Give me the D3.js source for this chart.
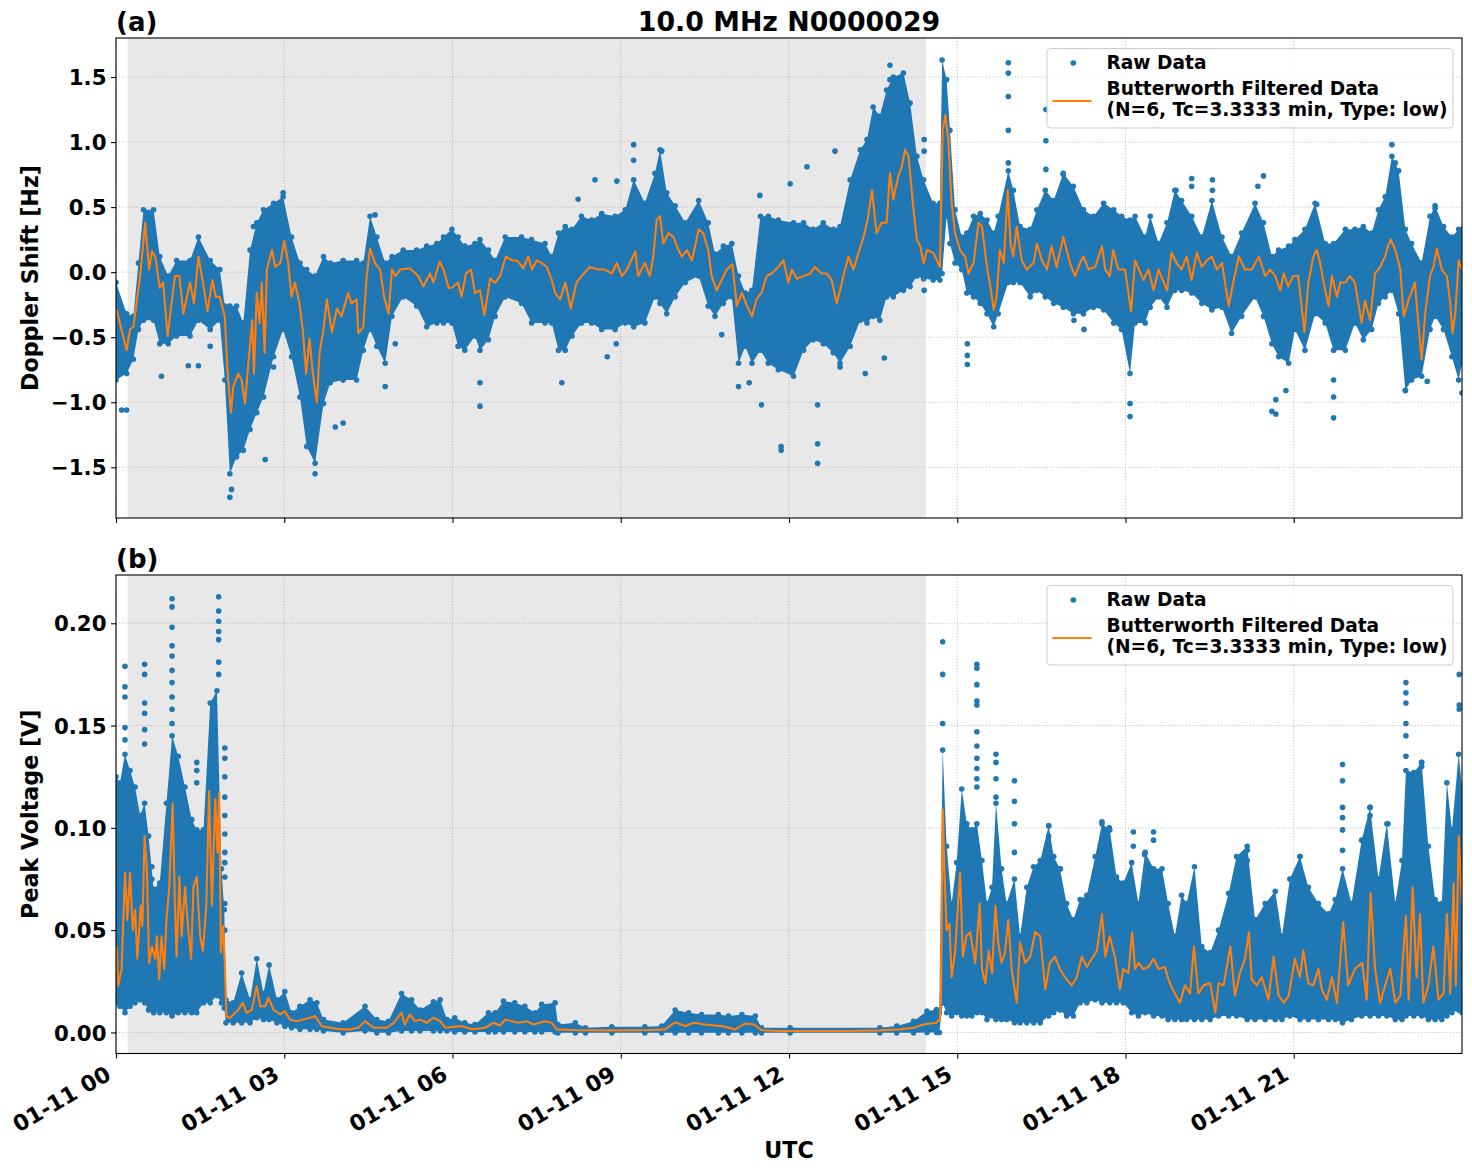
<!DOCTYPE html>
<html><head><meta charset="utf-8">
<script src="https://cdn.jsdelivr.net/npm/d3@7"></script>
<style>
body{margin:0;background:#fff}
text{font-family:"DejaVu Sans",sans-serif;font-weight:bold;fill:#000}
</style>
</head><body>
<svg id="chart" width="1472" height="1172"></svg>
<script>
// ---------------- DATA ----------------
const chartTitle = "10.0 MHz N0000029";
const xTickHours = [0, 3, 6, 9, 12, 15, 18, 21];
const xTickLabels = ["01-11 00","01-11 03","01-11 06","01-11 09","01-11 12","01-11 15","01-11 18","01-11 21"];
const dopplerTicks = [-1.5, -1.0, -0.5, 0.0, 0.5, 1.0, 1.5];
const voltageTicks = [0.00, 0.05, 0.10, 0.15, 0.20];
const shadeSpanHours = [0.208, 14.44];
const legendLabels = ["Raw Data", "Butterworth Filtered Data", "(N=6, Tc=3.3333 min, Type: low)"];

// Doppler raw-data cloud: [hour, lower edge, upper edge]
const dopplerRawBand = [
[0.00,-0.83,-0.08],[0.19,-0.78,-0.32],[0.31,-0.67,-0.34],[0.40,-0.44,0.07],[0.49,-0.37,0.48],[0.67,-0.37,0.48],
[0.78,-0.55,0.12],[0.93,-0.55,-0.03],[1.08,-0.49,0.09],[1.32,-0.49,0.09],[1.47,-0.37,0.27],[1.68,-0.44,0.09],
[1.85,-0.37,0.02],[1.94,-0.83,-0.26],[2.03,-1.55,-0.26],[2.15,-1.42,-0.26],[2.27,-1.37,-0.39],[2.39,-1.21,0.17],
[2.51,-1.08,0.38],[2.63,-0.96,0.48],[2.81,-0.65,0.53],[2.98,-0.44,0.58],[3.13,-0.65,0.27],[3.28,-0.96,0.07],
[3.40,-1.34,0.02],[3.55,-1.47,-0.03],[3.70,-1.01,0.12],[3.82,-0.85,0.07],[4.05,-0.83,0.09],[4.29,-0.83,0.09],
[4.41,-0.60,0.07],[4.53,-0.44,0.43],[4.65,-0.57,0.27],[4.80,-0.70,0.07],[4.92,-0.34,0.12],[5.12,-0.19,0.17],
[5.36,-0.26,0.17],[5.54,-0.42,0.20],[5.72,-0.39,0.22],[5.84,-0.39,0.27],[5.99,-0.39,0.33],[6.10,-0.57,0.27],
[6.22,-0.60,0.20],[6.40,-0.49,0.22],[6.49,-0.60,0.25],[6.64,-0.52,0.17],[6.76,-0.34,0.09],[6.94,-0.19,0.27],
[7.23,-0.24,0.27],[7.41,-0.39,0.25],[7.65,-0.39,0.22],[7.77,-0.39,0.12],[7.89,-0.60,0.30],[8.01,-0.60,0.35],
[8.13,-0.49,0.33],[8.30,-0.39,0.43],[8.48,-0.39,0.40],[8.66,-0.44,0.45],[8.90,-0.44,0.43],[9.08,-0.39,0.48],
[9.23,-0.42,0.71],[9.43,-0.39,0.53],[9.61,-0.19,0.76],[9.70,-0.24,0.94],[9.82,-0.32,0.61],[9.97,-0.19,0.51],
[10.15,-0.08,0.38],[10.39,-0.03,0.55],[10.56,-0.26,0.38],[10.68,-0.34,0.14],[10.83,-0.24,0.20],[10.98,-0.19,0.22],
[11.10,-0.70,-0.03],[11.22,-0.57,-0.16],[11.34,-0.70,-0.14],[11.49,-0.60,0.43],[11.63,-0.70,0.43],[11.81,-0.75,0.40],
[12.08,-0.80,0.38],[12.26,-0.60,0.38],[12.43,-0.52,0.33],[12.61,-0.55,0.38],[12.79,-0.62,0.33],[12.91,-0.70,0.35],
[13.09,-0.57,0.71],[13.27,-0.37,0.94],[13.39,-0.39,1.02],[13.50,-0.34,1.27],[13.62,-0.37,1.20],[13.74,-0.19,1.40],
[13.86,-0.19,1.50],[14.04,-0.14,1.53],[14.16,-0.11,1.30],[14.28,-0.03,0.89],[14.40,-0.05,0.71],[14.57,-0.06,0.53],
[14.69,-0.06,0.53],[14.73,-0.01,1.63],[14.81,0.43,1.48],[14.87,0.22,1.09],[14.96,0.07,0.48],[15.08,0.02,0.27],
[15.17,-0.16,0.30],[15.29,-0.19,0.43],[15.41,-0.24,0.45],[15.53,-0.32,0.40],[15.65,-0.42,0.30],[15.73,-0.32,0.43],
[15.91,-0.08,0.78],[16.00,-0.08,0.63],[16.12,-0.08,0.35],[16.30,-0.19,0.33],[16.42,-0.14,0.48],[16.57,-0.19,0.63],
[16.72,-0.24,0.55],[16.89,-0.27,0.76],[17.07,-0.32,0.66],[17.25,-0.32,0.48],[17.43,-0.27,0.43],[17.61,-0.29,0.53],
[17.79,-0.39,0.48],[17.93,-0.44,0.43],[18.08,-0.78,0.40],[18.17,-0.39,0.43],[18.35,-0.39,0.27],[18.44,-0.27,0.43],
[18.59,-0.19,0.22],[18.74,-0.27,0.38],[18.88,-0.14,0.63],[19.00,-0.14,0.55],[19.18,-0.16,0.43],[19.36,-0.24,0.27],
[19.54,-0.29,0.55],[19.72,-0.27,0.27],[19.89,-0.47,0.12],[20.07,-0.34,0.30],[20.31,-0.19,0.53],[20.46,-0.34,0.38],
[20.61,-0.55,0.12],[20.73,-0.65,0.17],[20.91,-0.70,0.20],[21.02,-0.44,0.25],[21.20,-0.60,0.33],[21.38,-0.32,0.53],
[21.56,-0.39,0.22],[21.71,-0.60,0.22],[21.92,-0.60,0.33],[22.09,-0.39,0.33],[22.24,-0.52,0.35],[22.39,-0.44,0.30],
[22.51,-0.24,0.48],[22.63,-0.19,0.58],[22.75,-0.14,0.89],[22.87,-0.32,0.78],[22.99,-0.91,0.33],[23.10,-0.83,0.22],
[23.28,-0.80,0.07],[23.43,-0.44,0.43],[23.52,-0.34,0.51],[23.67,-0.44,0.35],[23.82,-0.65,0.27],[23.94,-0.83,0.33],
[24.00,-0.70,0.33]
];

// Doppler isolated raw points: [hour, Hz]
const dopplerRawOutliers = [
[0.10,-1.06],[0.19,-1.06],[0.81,-0.80],[1.29,-0.72],[1.47,-0.72],[1.68,-0.57],[2.03,-1.73],[2.06,-1.67],[2.66,-1.44],
[3.55,-1.55],[3.91,-1.19],[4.05,-1.16],[4.80,-0.88],[4.98,-0.55],[2.98,0.61],[4.62,0.44],[2.81,-0.73],[2.45,0.35],
[6.49,-1.03],[6.49,-0.85],[7.95,-0.85],[8.76,-0.65],[8.92,-0.55],[8.54,0.71],[8.93,0.70],[9.23,0.98],[9.23,0.86],
[9.73,0.93],[10.80,-0.48],[11.10,-0.88],[11.29,-0.85],[11.51,-1.02],[11.86,-1.34],[11.86,-1.37],[11.48,0.59],[8.24,0.56],
[12.51,-1.02],[12.51,-1.32],[12.51,-1.47],[12.82,0.93],[12.32,0.81],[12.02,0.68],[13.36,-0.78],[12.91,-0.73],[13.70,-0.66],
[13.80,1.59],[13.80,1.48],[15.18,-0.71],[15.18,-0.64],[15.18,-0.55],[15.91,1.61],[15.91,1.53],[15.91,1.35],[15.91,1.09],
[15.91,0.84],[16.58,1.25],[16.58,1.01],[16.58,0.79],[16.89,0.75],[14.41,-0.14],[14.41,1.02],[14.41,0.93],[17.08,-0.37],
[17.26,-0.44],[18.08,-1.11],[18.08,-1.01],[19.18,0.72],[19.18,0.66],[19.55,0.71],[19.55,0.63],[20.46,0.74],[20.36,0.66],
[20.61,-1.07],[20.68,-1.09],[20.68,-0.98],[20.86,-0.91],[21.71,-1.12],[21.71,-0.96],[21.71,-0.83],[22.75,0.98],[22.81,0.84],
[22.99,-0.91],[23.38,-0.84],[24.00,-0.93],[18.90,0.63],[23.52,0.49],[21.41,0.52]
];

// Doppler Butterworth filtered series: [hour, Hz]
const dopplerFiltered = [
[0.01,-0.29],[0.19,-0.60],[0.25,-0.44],[0.31,-0.42],[0.43,-0.03],[0.52,0.38],[0.59,0.02],[0.64,0.16],[0.70,0.12],
[0.78,-0.12],[0.84,-0.08],[0.92,-0.49],[0.99,-0.24],[1.05,-0.03],[1.13,-0.03],[1.20,-0.32],[1.32,-0.08],[1.39,-0.24],
[1.47,0.12],[1.55,-0.08],[1.63,-0.30],[1.72,-0.06],[1.78,-0.19],[1.85,-0.19],[1.94,-0.34],[1.99,-0.78],[2.05,-1.08],
[2.09,-0.88],[2.18,-0.78],[2.24,-0.83],[2.30,-1.01],[2.36,-0.70],[2.43,-0.37],[2.46,-0.78],[2.51,-0.16],[2.56,-0.39],
[2.60,-0.08],[2.65,-0.62],[2.69,0.02],[2.78,0.17],[2.84,0.04],[2.93,0.07],[3.00,0.24],[3.07,0.07],[3.13,-0.19],
[3.19,-0.08],[3.27,-0.24],[3.33,-0.44],[3.39,-0.78],[3.45,-0.51],[3.51,-0.78],[3.58,-1.00],[3.63,-0.62],[3.70,-0.44],
[3.76,-0.21],[3.85,-0.46],[3.94,-0.28],[4.02,-0.34],[4.14,-0.16],[4.20,-0.24],[4.29,-0.21],[4.32,-0.47],[4.41,-0.42],
[4.47,-0.03],[4.53,0.18],[4.62,0.07],[4.71,0.02],[4.78,-0.19],[4.86,-0.32],[4.92,0.02],[4.98,-0.03],[5.07,0.02],
[5.24,0.03],[5.39,-0.03],[5.48,-0.11],[5.60,-0.01],[5.66,-0.08],[5.77,0.08],[5.84,0.02],[5.93,-0.12],[5.99,-0.12],
[6.10,-0.08],[6.16,-0.19],[6.24,-0.01],[6.33,0.02],[6.40,-0.16],[6.49,-0.14],[6.57,-0.33],[6.67,-0.05],[6.76,-0.08],
[6.85,-0.03],[6.95,0.12],[7.06,0.09],[7.15,0.09],[7.26,0.03],[7.35,0.12],[7.42,0.02],[7.50,0.09],[7.59,0.07],
[7.68,0.04],[7.77,-0.06],[7.83,-0.16],[7.92,-0.21],[8.01,-0.08],[8.11,-0.28],[8.21,-0.08],[8.30,-0.03],[8.45,0.04],
[8.60,0.02],[8.72,0.02],[8.84,-0.01],[8.93,0.07],[9.02,-0.03],[9.11,0.02],[9.26,0.16],[9.31,-0.03],[9.43,0.07],
[9.52,-0.03],[9.58,0.12],[9.64,0.40],[9.70,0.43],[9.76,0.22],[9.85,0.30],[9.94,0.27],[10.03,0.17],[10.09,0.12],
[10.18,0.17],[10.27,0.09],[10.39,0.33],[10.47,0.30],[10.56,0.17],[10.62,-0.03],[10.71,-0.14],[10.80,-0.06],[10.89,0.02],
[10.99,0.06],[11.07,-0.26],[11.16,-0.16],[11.25,-0.26],[11.34,-0.34],[11.42,-0.21],[11.51,-0.16],[11.60,-0.03],
[11.69,-0.01],[11.81,0.04],[11.90,0.09],[11.99,-0.08],[12.05,0.02],[12.14,-0.05],[12.26,-0.03],[12.38,-0.01],
[12.46,0.04],[12.58,-0.01],[12.67,-0.01],[12.76,-0.06],[12.85,-0.24],[12.91,-0.14],[12.97,-0.03],[13.06,0.12],
[13.15,0.02],[13.24,0.15],[13.33,0.27],[13.40,0.40],[13.48,0.63],[13.56,0.30],[13.65,0.38],[13.74,0.38],[13.80,0.76],
[13.86,0.56],[13.95,0.74],[14.01,0.81],[14.07,0.94],[14.13,0.89],[14.22,0.48],[14.28,0.25],[14.34,0.20],[14.40,0.07],
[14.46,0.17],[14.57,0.15],[14.69,0.04],[14.74,1.09],[14.79,1.21],[14.84,1.02],[14.90,0.53],[14.96,0.30],[15.05,0.17],
[15.14,0.12],[15.20,-0.01],[15.29,0.07],[15.38,0.38],[15.44,0.35],[15.53,0.04],[15.59,-0.11],[15.65,-0.29],[15.70,-0.19],
[15.76,0.17],[15.83,0.07],[15.90,0.63],[15.95,0.22],[16.00,0.12],[16.06,0.35],[16.15,0.09],[16.24,0.02],[16.36,0.07],
[16.42,0.22],[16.51,0.09],[16.60,0.02],[16.68,0.20],[16.77,0.04],[16.89,0.27],[17.01,0.07],[17.10,-0.03],[17.19,0.07],
[17.25,0.12],[17.34,0.02],[17.46,0.04],[17.58,0.20],[17.64,0.02],[17.72,-0.03],[17.78,0.17],[17.87,0.02],[17.99,0.02],
[18.10,-0.30],[18.17,0.09],[18.24,0.02],[18.32,-0.06],[18.41,0.02],[18.50,-0.14],[18.59,0.02],[18.74,-0.14],[18.82,0.15],
[18.91,0.07],[19.00,0.02],[19.09,0.12],[19.18,-0.06],[19.27,0.15],[19.36,0.04],[19.45,0.09],[19.54,0.12],[19.63,0.02],
[19.72,0.07],[19.84,-0.26],[19.92,-0.08],[20.02,0.12],[20.13,0.02],[20.25,0.02],[20.38,0.12],[20.49,-0.03],[20.58,0.02],
[20.67,-0.03],[20.76,-0.14],[20.82,-0.01],[20.90,-0.11],[20.99,-0.03],[21.08,-0.03],[21.19,-0.46],[21.26,-0.08],
[21.35,0.12],[21.41,0.17],[21.47,0.07],[21.56,-0.14],[21.62,-0.26],[21.68,-0.03],[21.77,-0.19],[21.83,-0.08],
[21.92,-0.08],[22.00,-0.03],[22.09,-0.08],[22.21,-0.39],[22.27,-0.22],[22.36,-0.37],[22.45,-0.01],[22.54,0.04],
[22.63,0.12],[22.68,0.20],[22.73,0.25],[22.81,0.17],[22.90,0.02],[22.96,-0.34],[23.05,-0.21],[23.16,-0.08],[23.22,-0.39],
[23.28,-0.67],[23.35,-0.29],[23.43,-0.03],[23.49,0.04],[23.55,0.18],[23.64,0.02],[23.73,-0.03],[23.79,-0.24],[23.83,-0.47],
[23.88,-0.32],[23.94,0.09],[24.00,0.02]
];

// Peak-voltage raw-data cloud: [hour, lower edge, upper edge]
const voltageRawBand = [
[0.00,0.0145,0.125],[0.07,0.0128,0.122],[0.16,0.0096,0.136],[0.25,0.0128,0.128],[0.34,0.0145,0.120],[0.43,0.016,0.106],
[0.51,0.0145,0.112],[0.58,0.011,0.096],[0.67,0.0096,0.070],[0.78,0.0096,0.073],[0.90,0.0096,0.112],[1.00,0.008,0.145],
[1.11,0.0096,0.135],[1.23,0.0096,0.120],[1.35,0.0096,0.104],[1.44,0.0096,0.099],[1.56,0.0145,0.099],[1.68,0.0145,0.161],
[1.80,0.018,0.167],[1.88,0.0145,0.080],[1.93,0.012,0.060],[1.96,0.0047,0.016],[2.09,0.0047,0.0145],[2.24,0.0047,0.029],
[2.39,0.0047,0.016],[2.51,0.0072,0.036],[2.63,0.0063,0.019],[2.73,0.0063,0.033],[2.87,0.0047,0.016],[3.01,0.003,0.020],
[3.13,0.0023,0.0096],[3.28,0.0015,0.0128],[3.46,0.0015,0.016],[3.58,0.0015,0.0145],[3.70,0.0007,0.0063],[4.05,-0.0002,0.0047],
[4.44,0.0007,0.0128],[4.65,-0.0002,0.0063],[4.86,-0.0002,0.0055],[5.09,0.0007,0.019],[5.27,0.0007,0.016],[5.42,0.0007,0.011],
[5.66,0.0007,0.015],[5.78,0.0007,0.016],[5.90,0.0007,0.0063],[6.04,0.0002,0.0072],[6.22,0.0002,0.0047],[6.40,0.0002,0.0039],
[6.64,0.0002,0.0096],[6.76,0.0002,0.0096],[6.91,0.0002,0.0153],[7.11,0.0002,0.0145],[7.29,0.0002,0.0128],[7.47,0.0002,0.0096],
[7.59,0.0002,0.0137],[7.83,0.0002,0.0145],[7.88,-0.0002,0.0039],[8.19,-0.0002,0.0047],[8.37,-0.0002,0.0023],[8.84,-0.0002,0.0028],
[9.43,-0.0002,0.0028],[9.73,-0.0002,0.0031],[9.97,-0.0002,0.011],[10.21,-0.0002,0.0096],[10.44,-0.0002,0.0088],
[10.74,-0.0002,0.0088],[10.92,-0.0002,0.008],[11.16,-0.0002,0.0088],[11.40,-0.0002,0.008],[11.51,-0.0002,0.0023],
[12.02,-0.0002,0.0023],[13.62,-0.0002,0.0023],[13.92,-0.0002,0.0031],[14.22,-0.0002,0.0055],[14.46,0.0,0.0104],
[14.63,0.0,0.0112],[14.68,0.0,0.0096],[14.74,0.0145,0.138],[14.81,0.0096,0.091],[14.90,0.008,0.063],[14.99,0.0096,0.083],
[15.08,0.008,0.119],[15.17,0.008,0.102],[15.26,0.008,0.099],[15.35,0.0096,0.102],[15.44,0.0096,0.084],[15.53,0.0063,0.063],
[15.62,0.008,0.071],[15.69,0.0063,0.112],[15.79,0.0063,0.080],[15.88,0.0063,0.063],[16.02,0.0047,0.075],[16.12,0.0047,0.047],
[16.24,0.0047,0.071],[16.36,0.0047,0.081],[16.48,0.0047,0.084],[16.63,0.008,0.101],[16.72,0.0096,0.086],[16.83,0.011,0.080],
[16.95,0.008,0.063],[17.07,0.008,0.055],[17.19,0.0145,0.065],[17.31,0.0145,0.067],[17.46,0.016,0.086],[17.58,0.0145,0.102],
[17.72,0.0145,0.099],[17.84,0.0145,0.076],[17.96,0.0145,0.073],[18.11,0.0096,0.083],[18.23,0.008,0.063],[18.35,0.0096,0.088],
[18.50,0.008,0.080],[18.65,0.008,0.080],[18.76,0.0063,0.063],[18.88,0.0063,0.047],[19.00,0.0063,0.067],[19.09,0.0063,0.063],
[19.23,0.0063,0.081],[19.36,0.0063,0.042],[19.51,0.0063,0.039],[19.66,0.008,0.050],[19.84,0.008,0.068],[19.98,0.008,0.086],
[20.17,0.0063,0.091],[20.31,0.0063,0.055],[20.49,0.0063,0.063],[20.67,0.0063,0.069],[20.79,0.0063,0.047],[20.93,0.008,0.075],
[21.11,0.0063,0.086],[21.26,0.0063,0.071],[21.44,0.0063,0.063],[21.62,0.0063,0.058],[21.74,0.0063,0.065],[21.87,0.0047,0.080],
[22.03,0.0063,0.063],[22.21,0.008,0.094],[22.36,0.008,0.110],[22.51,0.008,0.075],[22.66,0.008,0.102],[22.81,0.0063,0.063],
[22.93,0.0063,0.084],[23.00,0.008,0.128],[23.14,0.008,0.127],[23.28,0.008,0.132],[23.40,0.0063,0.091],[23.52,0.0063,0.065],
[23.64,0.0063,0.063],[23.73,0.008,0.122],[23.82,0.0096,0.099],[23.94,0.011,0.136],[24.00,0.0096,0.120]
];

// Peak-voltage isolated raw points: [hour, V]
const voltageRawOutliers = [
[0.16,0.179],[0.16,0.169],[0.16,0.164],[0.16,0.149],[0.16,0.143],
[0.51,0.180],[0.51,0.175],[0.51,0.161],[0.51,0.156],[0.51,0.148],[0.51,0.141],
[1.00,0.212],[1.00,0.208],[1.00,0.198],[1.00,0.189],[1.00,0.184],[1.00,0.177],[1.00,0.171],[1.00,0.164],[1.00,0.158],[1.00,0.151],
[1.44,0.132],[1.44,0.128],[1.44,0.122],
[1.83,0.213],[1.83,0.206],[1.83,0.201],[1.83,0.196],[1.83,0.192],[1.83,0.181],[1.83,0.175],
[1.94,0.139],[1.94,0.134],[1.94,0.125],[1.94,0.115],[1.94,0.106],[1.94,0.097],[1.94,0.088],[1.94,0.083],[1.94,0.076],[1.94,0.063],[1.94,0.050],
[0.64,0.081],[0.64,0.075],
[14.74,0.191],[14.74,0.175],[14.74,0.151],
[15.35,0.180],[15.35,0.178],[15.35,0.170],[15.35,0.162],[15.35,0.160],[15.35,0.147],[15.35,0.140],[15.35,0.134],[15.35,0.129],[15.35,0.124],[15.35,0.120],
[15.69,0.136],[15.69,0.132],[15.69,0.124],[15.69,0.115],
[16.02,0.123],[16.02,0.113],[16.02,0.102],[16.02,0.088],
[16.63,0.101],[16.63,0.096],[17.58,0.103],[17.71,0.100],[16.84,0.080],
[18.14,0.098],[18.14,0.091],[18.50,0.098],[18.50,0.094],[18.34,0.087],
[20.17,0.089],[20.17,0.084],[21.11,0.086],
[21.87,0.131],[21.87,0.123],[21.87,0.110],[21.87,0.105],[21.87,0.099],[21.87,0.089],
[22.36,0.110],[22.36,0.106],[22.68,0.102],
[23.00,0.171],[23.00,0.166],[23.00,0.161],[23.00,0.151],[23.00,0.145],[23.00,0.135],
[23.14,0.126],[23.14,0.122],[23.28,0.132],[23.28,0.130],
[23.95,0.175],[23.95,0.160],[23.95,0.158]
];

// Peak-voltage Butterworth filtered series: [hour, V]
const voltageFiltered = [
[0.01,0.042],[0.04,0.023],[0.10,0.031],[0.16,0.078],[0.20,0.055],[0.25,0.078],[0.30,0.050],[0.34,0.060],[0.38,0.036],
[0.44,0.062],[0.47,0.052],[0.51,0.096],[0.55,0.080],[0.59,0.034],[0.64,0.042],[0.70,0.036],[0.73,0.047],[0.77,0.026],
[0.81,0.047],[0.86,0.031],[0.90,0.055],[0.95,0.071],[1.01,0.112],[1.05,0.063],[1.08,0.037],[1.13,0.076],[1.17,0.047],
[1.23,0.071],[1.29,0.050],[1.34,0.036],[1.38,0.071],[1.44,0.076],[1.50,0.047],[1.55,0.040],[1.61,0.062],[1.66,0.118],
[1.71,0.062],[1.77,0.114],[1.81,0.088],[1.84,0.117],[1.87,0.039],[1.91,0.052],[1.94,0.034],[1.97,0.008],[2.03,0.007],
[2.12,0.0096],[2.18,0.011],[2.26,0.0145],[2.33,0.0096],[2.42,0.011],[2.51,0.0226],[2.57,0.0128],[2.66,0.0128],
[2.72,0.0169],[2.81,0.011],[2.93,0.0088],[3.01,0.0104],[3.10,0.0063],[3.22,0.0055],[3.34,0.0063],[3.46,0.0072],
[3.55,0.008],[3.67,0.003],[3.82,0.0023],[4.00,0.0015],[4.17,0.0015],[4.32,0.0023],[4.44,0.0055],[4.59,0.0023],
[4.83,0.0023],[4.95,0.0047],[5.09,0.0096],[5.15,0.0039],[5.24,0.0088],[5.33,0.0055],[5.42,0.0063],[5.54,0.0047],
[5.66,0.0072],[5.78,0.0055],[5.87,0.0023],[6.16,0.0031],[6.34,0.0015],[6.58,0.0023],[6.73,0.0047],[6.85,0.0034],
[6.94,0.0063],[7.06,0.0055],[7.17,0.0047],[7.32,0.0055],[7.44,0.0039],[7.65,0.0055],[7.77,0.0047],[7.86,0.0015],
[8.24,0.0011],[8.84,0.0010],[9.43,0.0011],[9.79,0.0015],[9.97,0.0050],[10.15,0.0031],[10.30,0.0047],[10.50,0.0039],
[10.80,0.0031],[11.04,0.0015],[11.22,0.0044],[11.37,0.0039],[11.51,0.0011],[11.81,0.0007],[12.43,0.0007],[13.03,0.0007],
[13.62,0.0010],[13.98,0.0015],[14.22,0.0023],[14.40,0.0039],[14.63,0.0047],[14.69,0.0063],[14.71,0.019],[14.74,0.109],
[14.77,0.080],[14.81,0.050],[14.86,0.053],[14.90,0.027],[14.96,0.039],[15.05,0.078],[15.10,0.037],[15.16,0.047],
[15.23,0.049],[15.32,0.034],[15.40,0.063],[15.44,0.031],[15.50,0.024],[15.56,0.040],[15.62,0.029],[15.68,0.062],
[15.73,0.044],[15.79,0.034],[15.85,0.039],[15.91,0.055],[15.97,0.031],[16.06,0.0145],[16.12,0.044],[16.21,0.034],
[16.30,0.037],[16.39,0.049],[16.48,0.047],[16.57,0.021],[16.65,0.034],[16.74,0.037],[16.83,0.031],[16.92,0.027],
[17.04,0.023],[17.13,0.027],[17.22,0.037],[17.31,0.032],[17.40,0.036],[17.49,0.040],[17.58,0.058],[17.64,0.037],
[17.72,0.047],[17.81,0.037],[17.90,0.021],[17.96,0.031],[18.05,0.029],[18.12,0.049],[18.17,0.031],[18.23,0.034],
[18.32,0.031],[18.41,0.032],[18.50,0.036],[18.59,0.031],[18.70,0.032],[18.79,0.024],[18.88,0.019],[18.97,0.0145],
[19.06,0.023],[19.15,0.019],[19.22,0.042],[19.30,0.019],[19.39,0.023],[19.51,0.024],[19.60,0.0096],[19.66,0.024],
[19.75,0.023],[19.87,0.042],[19.95,0.018],[20.04,0.029],[20.13,0.036],[20.20,0.049],[20.25,0.026],[20.34,0.023],
[20.43,0.027],[20.55,0.016],[20.64,0.037],[20.73,0.018],[20.82,0.0145],[20.91,0.018],[21.02,0.036],[21.11,0.027],
[21.17,0.040],[21.26,0.024],[21.35,0.023],[21.44,0.031],[21.50,0.021],[21.59,0.016],[21.68,0.027],[21.77,0.0145],
[21.88,0.054],[21.97,0.023],[22.09,0.031],[22.22,0.034],[22.30,0.016],[22.37,0.068],[22.45,0.031],[22.54,0.0145],
[22.63,0.023],[22.72,0.031],[22.81,0.0145],[22.90,0.018],[23.00,0.057],[23.05,0.016],[23.12,0.071],[23.19,0.027],
[23.25,0.058],[23.31,0.0145],[23.40,0.023],[23.49,0.042],[23.58,0.016],[23.67,0.019],[23.73,0.058],[23.79,0.019],
[23.85,0.073],[23.89,0.023],[23.94,0.096],[24.00,0.063]
];

// ---------------- DRAWING ----------------
const BLUE = "#1f77b4", ORANGE = "#ff7f0e";
const FONT = '"DejaVu Sans", sans-serif';
const svg = d3.select("#chart");
const plotLeft = 116, plotRight = 1462;
const x = d3.scaleLinear().domain([0, 24 - 1/3600]).range([plotLeft, plotRight]);

const panels = [
  {id:"a", top:38, bottom:518, domain:[-1.89, 1.80], ticks:dopplerTicks, fmt:d3.format(".1f"),
   band:dopplerRawBand, outliers:dopplerRawOutliers, filtered:dopplerFiltered,
   ylabel:"Doppler Shift [Hz]", showXLabels:false},
  {id:"b", top:575, bottom:1053.5, domain:[-0.0103, 0.2236], ticks:voltageTicks, fmt:d3.format(".2f"),
   band:voltageRawBand, outliers:voltageRawOutliers, filtered:voltageFiltered,
   ylabel:"Peak Voltage [V]", showXLabels:true}
];

const dotR = 2.8;

panels.forEach((p, pi) => {
  const y = d3.scaleLinear().domain(p.domain).range([p.bottom, p.top]);
  const g = svg.append("g");
  const clipId = "clip" + pi;
  svg.append("clipPath").attr("id", clipId).append("rect")
    .attr("x", plotLeft).attr("y", p.top).attr("width", plotRight - plotLeft).attr("height", p.bottom - p.top);

  // shaded span
  g.append("rect").attr("x", x(shadeSpanHours[0])).attr("y", p.top)
    .attr("width", x(shadeSpanHours[1]) - x(shadeSpanHours[0])).attr("height", p.bottom - p.top)
    .attr("fill", "#e8e8e8");

  // grid
  const grid = g.append("g").attr("stroke", "#b0b0b0").attr("stroke-width", 0.8).attr("stroke-dasharray", "1.1,1.8");
  xTickHours.forEach(h => grid.append("line").attr("x1", x(h)).attr("x2", x(h)).attr("y1", p.top).attr("y2", p.bottom));
  p.ticks.forEach(t => grid.append("line").attr("x1", plotLeft).attr("x2", plotRight).attr("y1", y(t)).attr("y2", y(t)));

  const data = g.append("g").attr("clip-path", `url(#${clipId})`);
  // raw data cloud
  const area = d3.area().x(d => x(d[0])).y0(d => y(d[1])).y1(d => y(d[2])).curve(d3.curveLinear);
  data.append("path").datum(p.band).attr("d", area).attr("fill", BLUE);
  const edgePts = p.band.flatMap(d => [[d[0], d[1]], [d[0], d[2]]]);
  data.selectAll("circle.edge").data(edgePts).join("circle").attr("class","edge")
    .attr("cx", d => x(d[0])).attr("cy", d => y(d[1])).attr("r", dotR).attr("fill", BLUE);
  data.selectAll("circle.out").data(p.outliers).join("circle").attr("class","out")
    .attr("cx", d => x(d[0])).attr("cy", d => y(d[1])).attr("r", dotR).attr("fill", BLUE);
  // filtered line
  const line = d3.line().x(d => x(d[0])).y(d => y(d[1]));
  data.append("path").datum(p.filtered).attr("d", line).attr("fill", "none")
    .attr("stroke", ORANGE).attr("stroke-width", 2.1).attr("stroke-linejoin", "round");

  // y axis
  const ya = g.append("g").attr("transform", `translate(${plotLeft},0)`)
    .call(d3.axisLeft(y).tickValues(p.ticks).tickFormat(p.fmt).tickSize(4.9).tickPadding(4.6).tickSizeOuter(0));
  ya.select(".domain").remove();
  ya.selectAll(".tick line").attr("stroke", "#000").attr("stroke-width", 1.1);
  ya.selectAll(".tick text").attr("font-size", 21.3).attr("font-family", FONT)
    .attr("font-weight", "bold").attr("dy", "0.36em");

  // x axis
  const xa = g.append("g").attr("transform", `translate(0,${p.bottom})`)
    .call(d3.axisBottom(x).tickValues(xTickHours).tickFormat((d, i) => p.showXLabels ? xTickLabels[i] : "")
      .tickSize(4.9).tickSizeOuter(0));
  xa.select(".domain").remove();
  xa.selectAll(".tick line").attr("stroke", "#000").attr("stroke-width", 1.1);
  xa.selectAll(".tick text").attr("font-size", 22).attr("font-family", FONT)
    .attr("font-weight", "bold").attr("y", 0).attr("dy", 0).attr("text-anchor", "end")
    .attr("transform", "translate(-4,25) rotate(-30)");

  // spines
  g.append("rect").attr("x", plotLeft).attr("y", p.top).attr("width", plotRight - plotLeft)
    .attr("height", p.bottom - p.top).attr("fill", "none").attr("stroke", "#000").attr("stroke-width", 1.1);

  // panel label
  g.append("text").attr("x", plotLeft).attr("y", p.top - 7).attr("font-size", 26).text(`(${p.id})`);

  // y label
  g.append("text").attr("transform", `translate(38,${(p.top + p.bottom) / 2}) rotate(-90)`)
    .attr("text-anchor", "middle").attr("font-size", 22.2).text(p.ylabel);

  // legend
  const lg = g.append("g").attr("transform", `translate(1047,${p.top + 10.5})`);
  lg.append("rect").attr("x", 0).attr("y", 0).attr("width", 406).attr("height", 79.5).attr("rx", 3.5)
    .attr("fill", "#fff").attr("fill-opacity", 0.8).attr("stroke", "#cccccc").attr("stroke-width", 1);
  lg.append("circle").attr("cx", 26.3).attr("cy", 14.5).attr("r", dotR).attr("fill", BLUE);
  lg.append("line").attr("x1", 5.5).attr("x2", 44.5).attr("y1", 52.5).attr("y2", 52.5)
    .attr("stroke", ORANGE).attr("stroke-width", 2.1);
  lg.append("text").attr("x", 59.5).attr("y", 20.5).attr("font-size", 18.6).text(legendLabels[0]);
  lg.append("text").attr("x", 59.5).attr("y", 46.5).attr("font-size", 18.6).text(legendLabels[1]);
  lg.append("text").attr("x", 59.5).attr("y", 67).attr("font-size", 18.6).text(legendLabels[2]);
});

// title & x label
svg.append("text").attr("x", (plotLeft + plotRight) / 2).attr("y", 31).attr("text-anchor", "middle")
  .attr("font-size", 26.8).text(chartTitle);
svg.append("text").attr("x", (plotLeft + plotRight) / 2).attr("y", 1158).attr("text-anchor", "middle")
  .attr("font-size", 22.2).text("UTC");
</script>
</body></html>
